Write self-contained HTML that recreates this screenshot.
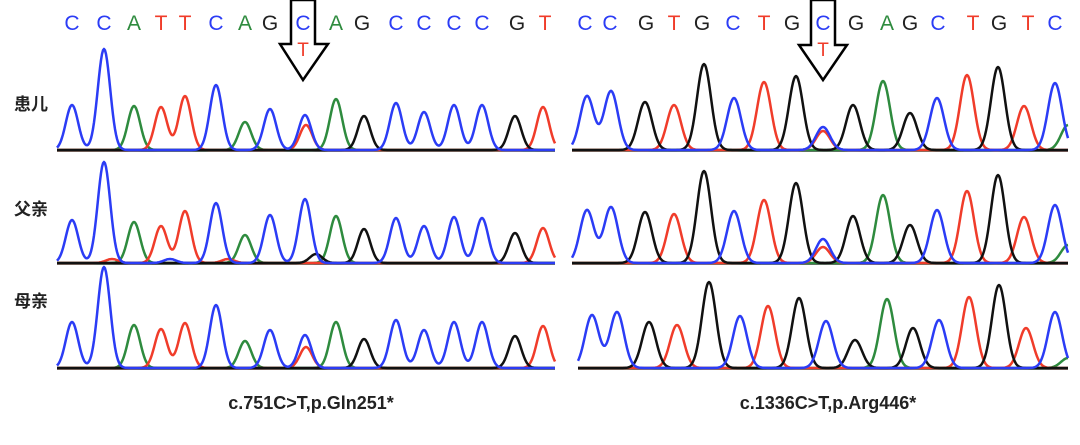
<!DOCTYPE html>
<html><head><meta charset="utf-8"><style>
html,body{margin:0;padding:0;background:#fff;width:1080px;height:445px;overflow:hidden}
svg{display:block}
.b{font-family:"Liberation Sans",sans-serif;font-size:21px;text-anchor:middle}
.lab{font-family:"Liberation Sans","Noto Sans CJK SC",sans-serif;font-size:17px;font-weight:bold;fill:#222}
.cap{font-family:"Liberation Sans",sans-serif;font-size:18px;font-weight:bold;fill:#222;text-anchor:middle}
</style></head><body>
<svg id="s" width="1080" height="445" viewBox="0 0 1080 445" xmlns="http://www.w3.org/2000/svg">
<g id="traces"></g>
<path d="M291,0 H315 V44 H328 L303,80 L280,44 H291 Z" fill="#fff" stroke="#000" stroke-width="2.5"/>
<path d="M811,0 H835 V45 H847 L823,80 L799,45 H811 Z" fill="#fff" stroke="#000" stroke-width="2.5"/>
<g class="b">
<text x="72" y="30" fill="#2b3cf5">C</text><text x="104" y="30" fill="#2b3cf5">C</text><text x="134" y="30" fill="#2e8b3e">A</text><text x="161" y="30" fill="#f03c2a">T</text><text x="185" y="30" fill="#f03c2a">T</text><text x="216" y="30" fill="#2b3cf5">C</text><text x="245" y="30" fill="#2e8b3e">A</text><text x="270" y="30" fill="#222">G</text><text x="303" y="30" fill="#2b3cf5">C</text><text x="336" y="30" fill="#2e8b3e">A</text><text x="362" y="30" fill="#222">G</text><text x="396" y="30" fill="#2b3cf5">C</text><text x="424" y="30" fill="#2b3cf5">C</text><text x="454" y="30" fill="#2b3cf5">C</text><text x="482" y="30" fill="#2b3cf5">C</text><text x="517" y="30" fill="#222">G</text><text x="545" y="30" fill="#f03c2a">T</text>
<text x="303" y="56" fill="#f03c2a" style="font-size:19px">T</text>
<text x="585" y="30" fill="#2b3cf5">C</text><text x="610" y="30" fill="#2b3cf5">C</text><text x="646" y="30" fill="#222">G</text><text x="674" y="30" fill="#f03c2a">T</text><text x="702" y="30" fill="#222">G</text><text x="733" y="30" fill="#2b3cf5">C</text><text x="764" y="30" fill="#f03c2a">T</text><text x="792" y="30" fill="#222">G</text><text x="823" y="30" fill="#2b3cf5">C</text><text x="856" y="30" fill="#222">G</text><text x="887" y="30" fill="#2e8b3e">A</text><text x="910" y="30" fill="#222">G</text><text x="938" y="30" fill="#2b3cf5">C</text><text x="973" y="30" fill="#f03c2a">T</text><text x="999" y="30" fill="#222">G</text><text x="1028" y="30" fill="#f03c2a">T</text><text x="1055" y="30" fill="#2b3cf5">C</text>
<text x="823" y="56" fill="#f03c2a" style="font-size:19px">T</text>
</g>
<text class="lab" x="14" y="110">患儿</text>
<text class="lab" x="14" y="215">父亲</text>
<text class="lab" x="14" y="307">母亲</text>
<text class="cap" x="311" y="409">c.751C&gt;T,p.Gln251*</text>
<text class="cap" x="828" y="409">c.1336C&gt;T,p.Arg446*</text>
</svg>
<script>
var C={B:"#2b3cf5",G:"#2e8b3e",R:"#f03c2a",K:"#111"};
var LX=[72,104,134,161,185,216,245,270,305,336,364,396,424,454,482,515,543];
var LC="BBGRRBGBBGKBBBBKR";
var RX=[587,611,645,674,704,734,764,796,823,853,883,910,937,967,998,1024,1055];
var RC="BBKRKBRKBKGKBRKRB";
var RX3=[592,617,649,677,709,740,768,799,826,855,887,913,939,969,999,1026,1055];
var panels=[
 {x0:57,x1:555,base:150,xs:LX,cs:LC,h:[45,101,44,43,54,65,28,41,35,51,34,47,38,45,45,34,43],extra:[[306,"R",25]],sg:6.2},
 {x0:57,x1:555,base:263,xs:LX,cs:LC,h:[43,101,41,37,52,60,28,48,64,47,34,45,37,46,45,30,35],extra:[[316,"K",9],[112,"R",4],[170,"B",4],[228,"R",4]],sg:6.2},
 {x0:57,x1:555,base:368,xs:LX,cs:LC,h:[46,101,43,39,45,63,27,38,33,46,29,48,38,46,46,32,42],extra:[[306,"R",21]],sg:6.2},
 {x0:572,x1:1068,base:150,xs:RX,cs:RC,h:[54,59,48,45,86,52,68,74,23,45,69,37,52,75,83,44,67],extra:[[823,"R",19],[1068,"G",25]],sg:7},
 {x0:572,x1:1068,base:263,xs:RX,cs:RC,h:[53,56,51,49,92,52,63,80,24,47,68,38,53,72,88,46,58],extra:[[823,"R",16],[1068,"G",18]],sg:7},
 {x0:578,x1:1068,base:368,xs:RX3,cs:RC,h:[53,56,46,43,86,52,62,70,47,28,69,40,48,71,83,40,56],extra:[[1068,"G",10]],sg:7}
];
var g=document.getElementById("traces"),out="";
panels.forEach(function(p){
 var peaks=p.xs.map(function(x,i){return [x,p.cs[i],p.h[i]];}).concat(p.extra);
 out+='<line x1="'+p.x0+'" y1="'+(p.base+1)+'" x2="'+p.x1+'" y2="'+(p.base+1)+'" stroke="#222" stroke-width="1.6"/>';
 ["G","R","K","B"].forEach(function(col){
  var d="";
  for(var x=p.x0;x<=p.x1;x+=1){
   var y=0;
   peaks.forEach(function(k){if(k[1]==col){var dx=x-k[0];y+=k[2]*Math.exp(-dx*dx/(2*p.sg*p.sg));}});
   d+=(x==p.x0?"M":"L")+x+","+(p.base-y).toFixed(1);
  }
  out+='<path d="'+d+'" fill="none" stroke="'+C[col]+'" stroke-width="2.5" stroke-linejoin="round"/>';
 });
});
g.innerHTML=out;
</script>
</body></html>
